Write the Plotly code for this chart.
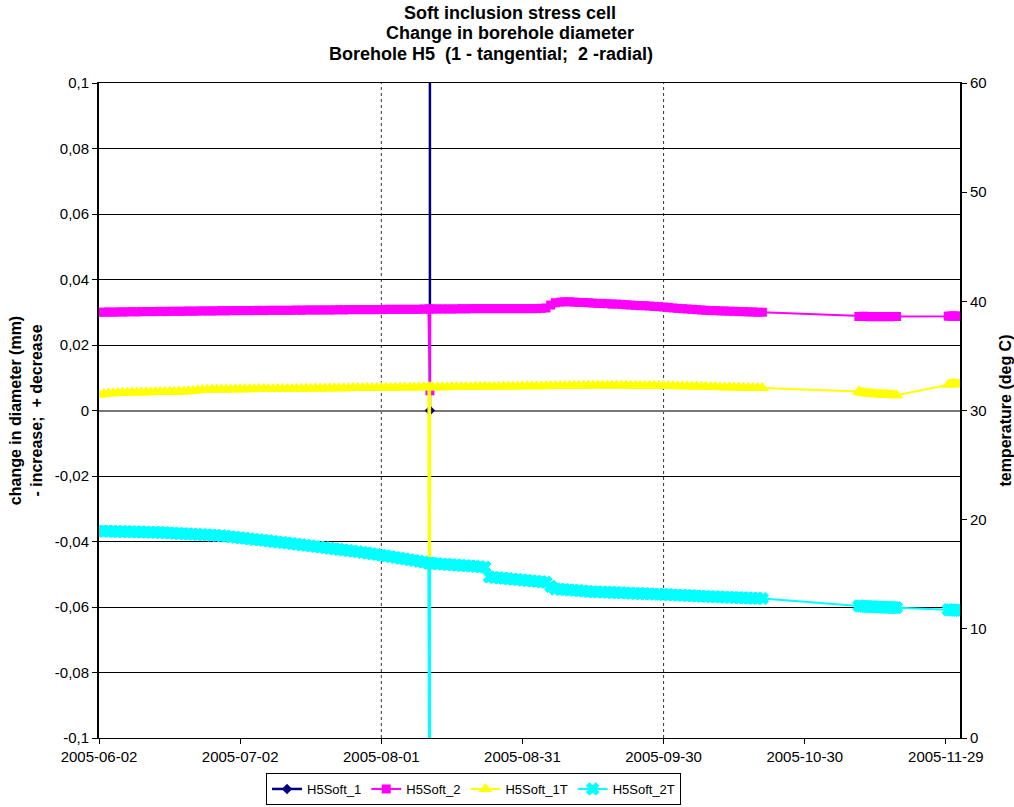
import pandas as pd
import plotly.graph_objects as go

# ---------------- data ----------------
dense_start = "2005-06-02"          # daily readings, 142 days (to 2005-10-21)
glitch_times = ["2005-08-11 08:00", "2005-08-11 09:00"]
late_start_1 = "2005-11-10 12:00"   # 12-hourly readings
late_start_2 = "2005-11-29 12:00"

h5soft_1_times = ["2005-08-11 08:00", "2005-08-11 08:00"]
h5soft_1 = [0.0, 0.5]

h5soft_2_dense = [
    0.0300, 0.0300, 0.0301, 0.0300, 0.0301, 0.0301, 0.0301, 0.0302, 0.0301, 0.0302, 0.0302, 0.0302, 0.0302, 0.0303, 0.0302,
    0.0303, 0.0303, 0.0303, 0.0303, 0.0304, 0.0303, 0.0304, 0.0304, 0.0304, 0.0304, 0.0304, 0.0305, 0.0304, 0.0305, 0.0305,
    0.0305, 0.0305, 0.0305, 0.0305, 0.0306, 0.0305, 0.0306, 0.0306, 0.0306, 0.0306, 0.0306, 0.0306, 0.0307, 0.0306, 0.0307,
    0.0307, 0.0307, 0.0307, 0.0307, 0.0307, 0.0307, 0.0308, 0.0307, 0.0308, 0.0308, 0.0308, 0.0308, 0.0308, 0.0308, 0.0308,
    0.0308, 0.0309, 0.0309, 0.0309, 0.0309, 0.0309, 0.0309, 0.0309, 0.0309, 0.0310, 0.0310, 0.0310, 0.0310, 0.0310, 0.0310,
    0.0310, 0.0310, 0.0311, 0.0310, 0.0311, 0.0311, 0.0311, 0.0311, 0.0311, 0.0311, 0.0311, 0.0311, 0.0311, 0.0311, 0.0311,
    0.0311, 0.0311, 0.0311, 0.0311, 0.0312, 0.0313, 0.0322, 0.0329, 0.0331, 0.0332, 0.0332, 0.0331, 0.0330, 0.0330, 0.0329,
    0.0328, 0.0327, 0.0327, 0.0326, 0.0325, 0.0325, 0.0324, 0.0323, 0.0322, 0.0321, 0.0320, 0.0320, 0.0319, 0.0318, 0.0317,
    0.0316, 0.0315, 0.0313, 0.0312, 0.0311, 0.0310, 0.0309, 0.0308, 0.0307, 0.0306, 0.0305, 0.0305, 0.0304, 0.0304, 0.0303,
    0.0303, 0.0302, 0.0302, 0.0301, 0.0301, 0.0300, 0.0300,
]
h5soft_2_glitch = [0.006, 0.0310]
h5soft_2_late_1 = [0.0287, 0.0287, 0.0288, 0.0287, 0.0287, 0.0286, 0.0287, 0.0287, 0.0287,
                   0.0286, 0.0287, 0.0287, 0.0287, 0.0286, 0.0287, 0.0287, 0.0287]
h5soft_2_late_2 = [0.0288, 0.0288, 0.0289, 0.0288, 0.0288, 0.0288]

h5soft_1t_dense = [
    31.45, 31.52, 31.56, 31.58, 31.60, 31.62, 31.63, 31.64, 31.65, 31.66, 31.67, 31.68, 31.69, 31.70, 31.70,
    31.71, 31.72, 31.73, 31.75, 31.76, 31.80, 31.85, 31.88, 31.90, 31.91, 31.92, 31.92, 31.93, 31.93, 31.94,
    31.94, 31.95, 31.95, 31.96, 31.96, 31.96, 31.97, 31.97, 31.97, 31.98, 31.98, 31.98, 31.99, 31.99, 32.00,
    32.00, 32.01, 32.01, 32.02, 32.02, 32.03, 32.03, 32.04, 32.04, 32.05, 32.05, 32.06, 32.06, 32.07, 32.07,
    32.08, 32.08, 32.09, 32.09, 32.10, 32.10, 32.11, 32.11, 32.12, 32.12, 32.13, 32.13, 32.14, 32.14, 32.14,
    32.15, 32.15, 32.16, 32.16, 32.16, 32.17, 32.17, 32.17, 32.18, 32.18, 32.18, 32.19, 32.19, 32.20, 32.20,
    32.21, 32.21, 32.22, 32.22, 32.23, 32.23, 32.24, 32.24, 32.25, 32.25, 32.26, 32.26, 32.27, 32.27, 32.28,
    32.28, 32.29, 32.29, 32.29, 32.29, 32.28, 32.28, 32.28, 32.27, 32.27, 32.27, 32.26, 32.26, 32.26, 32.26,
    32.25, 32.25, 32.24, 32.23, 32.22, 32.21, 32.20, 32.19, 32.18, 32.17, 32.16, 32.15, 32.14, 32.13, 32.12,
    32.11, 32.10, 32.09, 32.08, 32.07, 32.06, 32.05,
]
h5soft_1t_glitch = [-30.0, 32.12]
h5soft_1t_late_1 = [31.75, 31.65, 31.60, 31.58, 31.55, 31.55, 31.52, 31.50, 31.50,
                    31.48, 31.47, 31.45, 31.45, 31.43, 31.42, 31.40, 31.40]
h5soft_1t_late_2 = [32.35, 32.40, 32.45, 32.45, 32.40, 32.40]

h5soft_2t_dense = [
    18.96, 18.95, 18.94, 18.93, 18.92, 18.91, 18.90, 18.89, 18.88, 18.87, 18.86, 18.85, 18.84, 18.82, 18.80,
    18.78, 18.76, 18.73, 18.71, 18.69, 18.67, 18.64, 18.62, 18.60, 18.58, 18.55, 18.53, 18.48, 18.43, 18.39,
    18.34, 18.29, 18.24, 18.19, 18.15, 18.10, 18.05, 18.00, 17.95, 17.91, 17.86, 17.81, 17.75, 17.70, 17.65,
    17.60, 17.54, 17.49, 17.44, 17.38, 17.33, 17.28, 17.22, 17.17, 17.12, 17.06, 17.00, 16.94, 16.88, 16.81,
    16.75, 16.68, 16.61, 16.54, 16.47, 16.40, 16.33, 16.26, 16.19, 16.12, 16.02, 15.99, 15.96, 15.93, 15.90,
    15.87, 15.84, 15.81, 15.78, 15.75, 15.72, 15.69, 15.66, 14.75, 14.71, 14.67, 14.63, 14.59, 14.55, 14.51,
    14.47, 14.43, 14.39, 14.35, 14.31, 14.26, 13.90, 13.65, 13.62, 13.59, 13.56, 13.53, 13.50, 13.46, 13.43,
    13.40, 13.38, 13.37, 13.35, 13.33, 13.32, 13.30, 13.28, 13.27, 13.25, 13.23, 13.22, 13.20, 13.18, 13.17,
    13.15, 13.13, 13.11, 13.09, 13.07, 13.05, 13.03, 13.01, 12.99, 12.97, 12.95, 12.93, 12.92, 12.90, 12.88,
    12.87, 12.85, 12.84, 12.82, 12.81, 12.79, 12.78,
]
h5soft_2t_glitch = [-30.0, 16.02]
h5soft_2t_late_1 = [12.10, 12.08, 12.06, 12.05, 12.04, 12.03, 12.02, 12.01, 12.00,
                    12.00, 11.99, 11.98, 11.97, 11.96, 11.95, 11.95, 11.94]
h5soft_2t_late_2 = [11.75, 11.73, 11.72, 11.71, 11.70, 11.70]

title_lines = ["Soft inclusion stress cell", "Change in borehole diameter",
               "Borehole H5  (1 - tangential;  2 -radial)"]
x_tick_labels = ["2005-06-02", "2005-07-02", "2005-08-01", "2005-08-31",
                 "2005-09-30", "2005-10-30", "2005-11-29"]
x_grid_dates = ["2005-08-01", "2005-09-30"]
y_left_ticks = [-0.1, -0.08, -0.06, -0.04, -0.02, 0, 0.02, 0.04, 0.06, 0.08, 0.1]
y_left_labels = ["-0,1", "-0,08", "-0,06", "-0,04", "-0,02", "0",
                 "0,02", "0,04", "0,06", "0,08", "0,1"]
y_right_ticks = [0, 10, 20, 30, 40, 50, 60]


# ---------------- assemble series ----------------
def build(dense, glitch, late1, late2):
    parts = [
        pd.Series(dense, index=pd.date_range(dense_start, periods=len(dense), freq="D")),
        pd.Series(glitch, index=pd.to_datetime(glitch_times)),
        pd.Series(late1, index=pd.date_range(late_start_1, periods=len(late1), freq="12h")),
        pd.Series(late2, index=pd.date_range(late_start_2, periods=len(late2), freq="12h")),
    ]
    return pd.concat(parts).sort_index(kind="stable")


s2 = build(h5soft_2_dense, h5soft_2_glitch, h5soft_2_late_1, h5soft_2_late_2)
s1t = build(h5soft_1t_dense, h5soft_1t_glitch, h5soft_1t_late_1, h5soft_1t_late_2)
s2t = build(h5soft_2t_dense, h5soft_2t_glitch, h5soft_2t_late_1, h5soft_2t_late_2)

FONT = "Liberation Sans, Arial, sans-serif"

fig = go.Figure()
fig.add_trace(go.Scatter(
    x=pd.to_datetime(h5soft_1_times), y=h5soft_1, name="H5Soft_1", mode="lines+markers",
    line=dict(color="#000080", width=2.5), marker=dict(symbol="diamond", size=8, color="#000080"),
))
fig.add_trace(go.Scatter(
    x=s2.index, y=s2.values, name="H5Soft_2", mode="lines+markers",
    line=dict(color="#FF00FF", width=2), marker=dict(symbol="square", size=9, color="#FF00FF"),
))
fig.add_trace(go.Scatter(
    x=s1t.index, y=s1t.values, name="H5Soft_1T", mode="lines+markers", yaxis="y2",
    line=dict(color="#FFFF00", width=2), marker=dict(symbol="triangle-up", size=12, color="#FFFF00"),
))
fig.add_trace(go.Scatter(
    x=s2t.index, y=s2t.values, name="H5Soft_2T", mode="lines+markers", yaxis="y2",
    line=dict(color="#00FFFF", width=2),
    marker=dict(symbol="x", size=11, color="#00FFFF", line=dict(color="#00FFFF", width=1)),
))

for d in x_grid_dates:
    fig.add_shape(type="line", x0=d, x1=d, y0=0, y1=1, xref="x", yref="paper",
                  line=dict(color="#333333", width=1, dash="dot"), layer="below")

# title lines
title_x = [0.4774, 0.4774, 0.4553]
title_y = [1.1069, 1.0763, 1.0443]
for txt, tx, ty in zip(title_lines, title_x, title_y):
    fig.add_annotation(text="<b>" + txt + "</b>", x=tx, y=ty, xref="paper", yref="paper",
                       xanchor="center", yanchor="middle", showarrow=False,
                       font=dict(family=FONT, size=18, color="black"))

fig.update_layout(
    width=1014, height=807,
    paper_bgcolor="white", plot_bgcolor="white",
    font=dict(family=FONT, size=15, color="black"),
    margin=dict(l=99, r=54, t=83, b=69, autoexpand=False),
    xaxis=dict(
        type="date", range=["2005-06-02", "2005-12-02"], automargin=False,
        tickmode="array", tickvals=x_tick_labels, ticktext=x_tick_labels,
        showgrid=False, zeroline=False,
        showline=True, linecolor="black", linewidth=1, mirror=True,
        ticks="outside", ticklen=5, tickcolor="black",
        tickfont=dict(family=FONT, size=15),
    ),
    yaxis=dict(
        range=[-0.1, 0.1], automargin=False,
        tickmode="array", tickvals=y_left_ticks, ticktext=y_left_labels,
        showgrid=True, gridcolor="black", gridwidth=1,
        zeroline=True, zerolinecolor="#777777", zerolinewidth=1.5,
        showline=True, linecolor="black", linewidth=2,
        ticks="outside", ticklen=5, tickcolor="black",
        tickfont=dict(family=FONT, size=15),
        title=dict(text="<b>change in diameter (mm)<br>- increase;  + decrease</b>",
                   font=dict(family=FONT, size=16), standoff=8),
    ),
    yaxis2=dict(
        range=[0, 60], overlaying="y", side="right", automargin=False,
        tickmode="array", tickvals=y_right_ticks,
        showgrid=False, zeroline=False,
        showline=True, linecolor="black", linewidth=2,
        ticks="outside", ticklen=5, tickcolor="black",
        tickfont=dict(family=FONT, size=15),
        title=dict(text="<b>temperature (deg C)</b>", font=dict(family=FONT, size=16), standoff=15),
    ),
    showlegend=True,
    legend=dict(
        orientation="h", x=0.435, xanchor="center", y=-0.1023, yanchor="bottom",
        bordercolor="black", borderwidth=1, bgcolor="white",
        font=dict(family=FONT, size=13), itemwidth=30,
        tracegroupgap=0,
    ),
)

fig.write_html("out.html", config={"displayModeBar": False},
               post_script="document.body.style.margin='0px';")
